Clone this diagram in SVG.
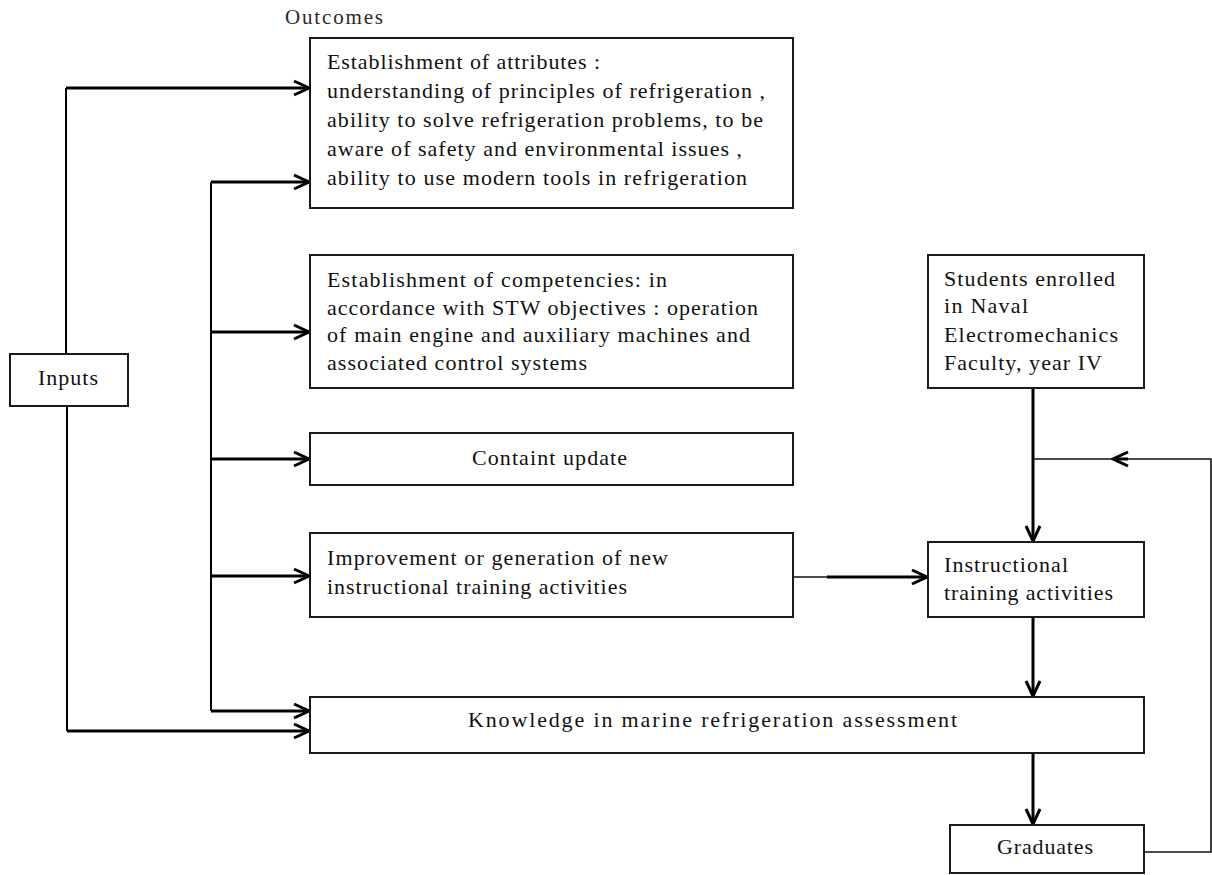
<svg xmlns="http://www.w3.org/2000/svg" width="1212" height="875" viewBox="0 0 1212 875">
  <style>
    .box { fill: #ffffff; stroke: #1a1a1a; stroke-width: 2; }
    .t { font-family: "Liberation Serif", "Times New Roman", serif; font-size: 22px; fill: #111111; }
    .thick { fill: none; stroke: #000000; stroke-width: 3; }
    .mid { fill: none; stroke: #000000; stroke-width: 2; }
    .thin { fill: none; stroke: #111111; stroke-width: 1.6; }
  </style>
  <defs>
    <marker id="head" markerUnits="userSpaceOnUse" viewBox="-18 -10 20 20" refX="0" refY="0" markerWidth="20" markerHeight="20" orient="auto">
      <path d="M-15,-7 L0,0 L-15,7" fill="none" stroke="#000000" stroke-width="3" stroke-linejoin="miter"/>
    </marker>
  </defs>
  <rect width="1212" height="875" fill="#ffffff"/>

  <text class="t" x="285" y="24" textLength="98" style="font-size:21px;fill:#2a2a2a">Outcomes</text>

  <!-- connectors -->
  <g id="connectors">
    <!-- outer input line -->
    <path class="mid" d="M66,354 V88"/>
    <path class="thick" d="M66,88 H309" marker-end="url(#head)"/>
    <path class="mid" d="M67,406 V731"/>
    <path class="thick" d="M67,731 H309" marker-end="url(#head)"/>
    <!-- inner distribution trunk -->
    <path class="mid" d="M211,182 V711"/>
    <path class="thick" d="M211,182 H309" marker-end="url(#head)"/>
    <path class="thick" d="M211,332 H309" marker-end="url(#head)"/>
    <path class="thick" d="M211,459 H309" marker-end="url(#head)"/>
    <path class="thick" d="M211,576 H309" marker-end="url(#head)"/>
    <path class="thick" d="M211,711 H309" marker-end="url(#head)"/>
    <!-- new activities feed the instructional activities -->
    <path class="thin" d="M793,577 H828"/>
    <path class="thick" d="M827,577 H927" marker-end="url(#head)"/>
    <!-- main vertical flow -->
    <path class="thick" d="M1033,388 V541" marker-end="url(#head)"/>
    <path class="thick" d="M1033,617 V696" marker-end="url(#head)"/>
    <path class="thick" d="M1033,753 V824" marker-end="url(#head)"/>
    <!-- graduates feedback loop -->
    <path class="thin" d="M1144,852 H1211 V459 H1114"/>
    <path class="thick" d="M1128,459 H1113" marker-end="url(#head)"/>
    <path class="thin" d="M1114,459 H1033"/>
  </g>

  <g id="attributes">
    <rect class="box" x="310" y="38" width="483" height="170"/>
    <text class="t" x="327" y="69" textLength="273">Establishment of attributes :</text>
    <text class="t" x="327" y="98" textLength="438">understanding of principles of refrigeration ,</text>
    <text class="t" x="327" y="127" textLength="436">ability to solve refrigeration problems, to be</text>
    <text class="t" x="327" y="156" textLength="415">aware of safety and environmental issues ,</text>
    <text class="t" x="327" y="185" textLength="420">ability to use modern tools in refrigeration</text>
  </g>

  <g id="competencies">
    <rect class="box" x="310" y="255" width="483" height="133"/>
    <text class="t" x="327" y="287" textLength="340">Establishment of competencies: in</text>
    <text class="t" x="327" y="315" textLength="431">accordance with STW objectives : operation</text>
    <text class="t" x="327" y="342" textLength="423">of main engine and auxiliary machines and</text>
    <text class="t" x="327" y="370" textLength="260">associated control systems</text>
  </g>

  <g id="content-update">
    <rect class="box" x="310" y="433" width="483" height="52"/>
    <text class="t" x="472" y="465" textLength="155">Containt update</text>
  </g>

  <g id="new-activities">
    <rect class="box" x="310" y="533" width="483" height="84"/>
    <text class="t" x="327" y="565" textLength="341">Improvement or generation of new</text>
    <text class="t" x="327" y="594" textLength="300">instructional training activities</text>
  </g>

  <g id="assessment">
    <rect class="box" x="310" y="697" width="834" height="56"/>
    <text class="t" x="468" y="727" textLength="489">Knowledge in marine refrigeration assessment</text>
  </g>

  <g id="inputs">
    <rect class="box" x="10" y="354" width="118" height="52"/>
    <text class="t" x="38" y="385" textLength="60">Inputs</text>
  </g>

  <g id="students">
    <rect class="box" x="928" y="255" width="216" height="133"/>
    <text class="t" x="944" y="286" textLength="171">Students enrolled</text>
    <text class="t" x="944" y="313" textLength="84">in Naval</text>
    <text class="t" x="944" y="342" textLength="174">Electromechanics</text>
    <text class="t" x="944" y="370" textLength="158">Faculty, year IV</text>
  </g>

  <g id="instructional">
    <rect class="box" x="928" y="542" width="216" height="75"/>
    <text class="t" x="944" y="572" textLength="124">Instructional</text>
    <text class="t" x="944" y="600" textLength="169">training activities</text>
  </g>

  <g id="graduates">
    <rect class="box" x="950" y="825" width="194" height="48"/>
    <text class="t" x="997" y="854" textLength="96">Graduates</text>
  </g>
</svg>
